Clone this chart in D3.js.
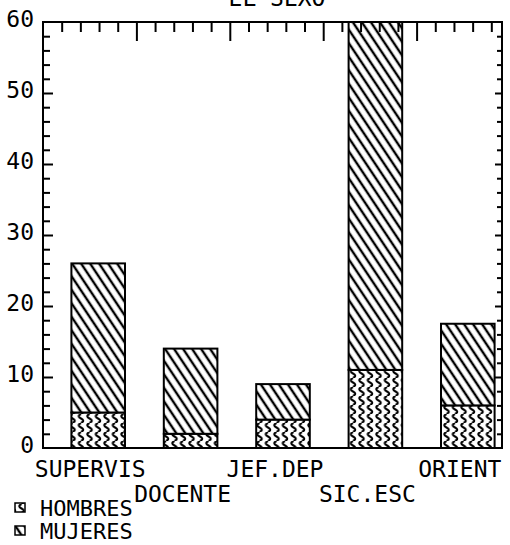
<!DOCTYPE html>
<html lang="es">
<head>
    <meta charset="utf-8">
    <title>EL SEXO</title>
    <script src="https://d3js.org/d3.v7.min.js"></script>
    <style>
        body {
            margin: 0;
            background: #fff;
        }
        svg text {
            font-family: "DejaVu Sans Mono", monospace;
            font-size: 23px;
            fill: #000;
        }
        svg text.legend-label {
            font-size: 22px;
        }
        .bar {
            stroke: #000;
            stroke-width: 2px;
        }
        .frame {
            fill: none;
            stroke: #000;
            stroke-width: 2px;
        }
        .ticks path { display: none; }
        .ticks line { stroke: #000; stroke-width: 2px; }
    </style>
</head>
<body>
    <svg id="chart" width="510" height="545"></svg>
    <script>
        const categories = ['SUPERVIS', 'DOCENTE', 'JEF.DEP', 'SIC.ESC', 'ORIENT'];
        const hombres = [5, 2, 4, 11, 6];
        const mujeres = [21, 12, 5, 49, 11.5];
        const seriesNames = ['HOMBRES', 'MUJERES'];
        const yTicks = [0, 10, 20, 30, 40, 50, 60];

        const plotLeft = 43, plotRight = 502, plotTop = 22, plotBottom = 448;

        const svg = d3.select('#chart');

        // fill patterns
        const defs = svg.append('defs');
        const wave = defs.append('pattern')
            .attr('id', 'wave')
            .attr('patternUnits', 'userSpaceOnUse')
            .attr('width', 8.5)
            .attr('height', 9);
        wave.append('rect').attr('width', 8.5).attr('height', 9).attr('fill', '#fff');
        wave.append('path')
            .attr('d', 'M4.5,0 Q0,2.25 4.5,4.5 Q9,6.75 4.5,9')
            .attr('fill', 'none')
            .attr('stroke', '#000')
            .attr('stroke-width', 2.1);

        const diag = defs.append('pattern')
            .attr('id', 'diag')
            .attr('patternUnits', 'userSpaceOnUse')
            .attr('width', 7.5)
            .attr('height', 10)
            .attr('patternTransform', 'rotate(-33.7)');
        diag.append('rect').attr('width', 7.5).attr('height', 10).attr('fill', '#fff');
        diag.append('line')
            .attr('x1', 3.75).attr('y1', 0)
            .attr('x2', 3.75).attr('y2', 10)
            .attr('stroke', '#000')
            .attr('stroke-width', 2.4);

        const fills = ['url(#wave)', 'url(#diag)'];

        const y = d3.scaleLinear().domain([0, 60]).range([plotBottom, plotTop]);
        const x = d3.scaleBand()
            .domain(categories)
            .range([52, 514])
            .paddingInner(0.42)
            .paddingOuter(0.21);
        const xTick = d3.scaleLinear().domain([0, 25]).range([plotLeft, 510]);

        const stack = categories.map((c, i) => ({ cat: c, h: hombres[i], m: mujeres[i] }));

        // bars
        const g = svg.append('g');
        g.selectAll('.hom')
            .data(stack)
            .enter().append('rect')
            .attr('class', 'bar')
            .attr('x', d => x(d.cat))
            .attr('width', x.bandwidth())
            .attr('y', d => y(d.h))
            .attr('height', d => y(0) - y(d.h))
            .attr('fill', fills[0]);
        g.selectAll('.muj')
            .data(stack)
            .enter().append('rect')
            .attr('class', 'bar')
            .attr('x', d => x(d.cat))
            .attr('width', x.bandwidth())
            .attr('y', d => y(Math.min(60, d.h + d.m)))
            .attr('height', d => y(d.h) - y(Math.min(60, d.h + d.m)))
            .attr('fill', fills[1]);

        // ticks
        const minorY = d3.range(2, 60, 2).filter(v => v % 10 !== 0);
        const majorY = [10, 20, 30, 40, 50];
        svg.append('g').attr('class', 'ticks')
            .attr('transform', `translate(${plotLeft},0)`)
            .call(d3.axisRight(y).tickValues(minorY).tickSize(7).tickFormat(''));
        svg.append('g').attr('class', 'ticks')
            .attr('transform', `translate(${plotLeft},0)`)
            .call(d3.axisRight(y).tickValues(majorY).tickSize(10).tickFormat(''));
        svg.append('g').attr('class', 'ticks')
            .attr('transform', `translate(${plotRight},0)`)
            .call(d3.axisLeft(y).tickValues(minorY).tickSize(5).tickFormat(''));
        svg.append('g').attr('class', 'ticks')
            .attr('transform', `translate(${plotRight},0)`)
            .call(d3.axisLeft(y).tickValues(majorY).tickSize(7).tickFormat(''));

        const topMinor = d3.range(1, 25).filter(v => v % 5 !== 0);
        const topMajor = [5, 10, 15, 20];
        svg.append('g').attr('class', 'ticks')
            .attr('transform', `translate(0,${plotTop})`)
            .call(d3.axisBottom(xTick).tickValues(topMinor).tickSize(10).tickFormat(''));
        svg.append('g').attr('class', 'ticks')
            .attr('transform', `translate(0,${plotTop})`)
            .call(d3.axisBottom(xTick).tickValues(topMajor).tickSize(19).tickFormat(''));

        // frame
        svg.append('rect')
            .attr('class', 'frame')
            .attr('x', plotLeft).attr('y', plotTop)
            .attr('width', plotRight - plotLeft)
            .attr('height', plotBottom - plotTop);

        // y labels
        svg.selectAll('.ylab')
            .data(yTicks)
            .enter().append('text')
            .attr('x', 34)
            .attr('y', d => y(d) - 3)
            .attr('dy', '0.36em')
            .attr('text-anchor', 'end')
            .text(d => d);

        // category labels, staggered
        svg.selectAll('.xlab')
            .data(categories)
            .enter().append('text')
            .attr('x', d => x(d) + x.bandwidth() / 2 - 8)
            .attr('y', (d, i) => i % 2 === 0 ? 477 : 502)
            .attr('text-anchor', 'middle')
            .text(d => d);

        // title (cut off at the top, as in the source)
        svg.append('text')
            .attr('x', 277)
            .attr('y', 6)
            .attr('text-anchor', 'middle')
            .text('EL SEXO');

        // legend
        const leg = svg.selectAll('.leg')
            .data(seriesNames)
            .enter().append('g')
            .attr('transform', (d, i) => `translate(0,${i * 23})`);
        leg.append('rect')
            .attr('x', 15).attr('y', 503)
            .attr('width', 10).attr('height', 9)
            .attr('fill', (d, i) => fills[i])
            .attr('stroke', '#000')
            .attr('stroke-width', 1.5);
        leg.append('text')
            .attr('class', 'legend-label')
            .attr('x', 40)
            .attr('y', 516)
            .text(d => d);
    </script>
</body>
</html>
